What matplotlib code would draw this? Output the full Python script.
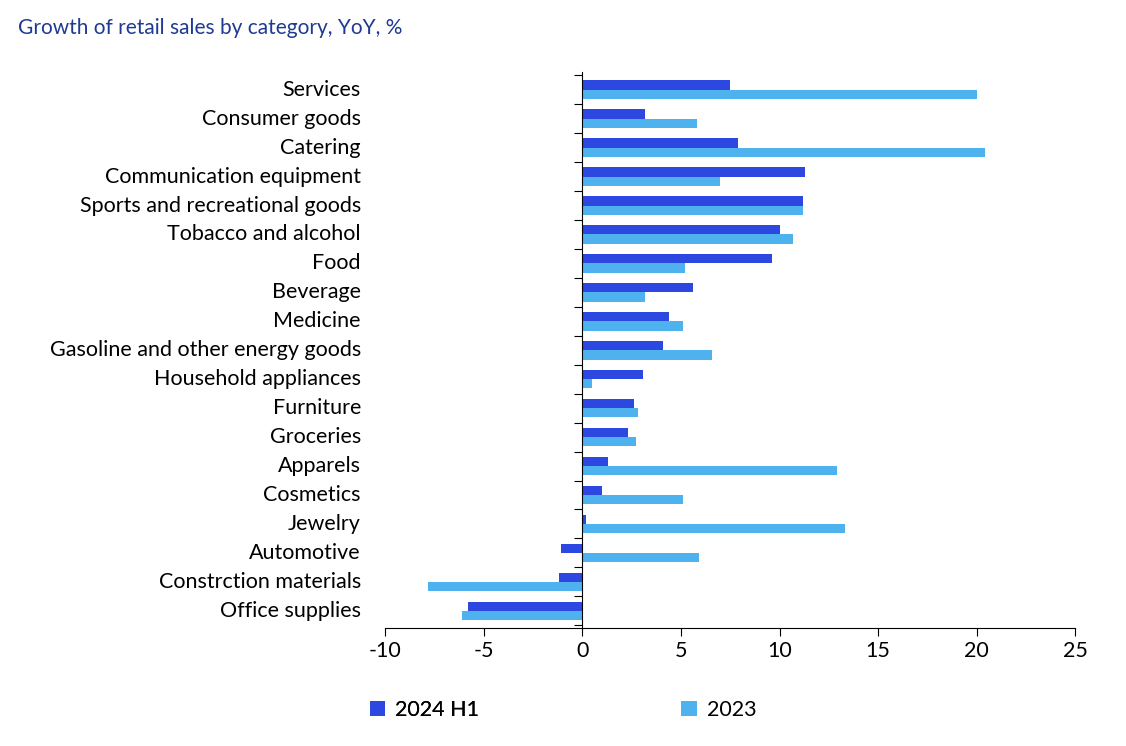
import matplotlib
matplotlib.use("Agg")
import matplotlib.pyplot as plt
import numpy as np
from matplotlib.transforms import blended_transform_factory

plt.rcParams['font.family'] = ['Lato', 'DejaVu Sans']
plt.rcParams['axes.unicode_minus'] = False

categories = ["Services", "Consumer goods", "Catering", "Communication equipment",
              "Sports and recreational goods", "Tobacco and alcohol", "Food", "Beverage",
              "Medicine", "Gasoline and other energy goods", "Household appliances",
              "Furniture", "Groceries", "Apparels", "Cosmetics", "Jewelry", "Automotive",
              "Constrction materials", "Office supplies"]
h1_2024 = [7.5, 3.2, 7.9, 11.3, 11.2, 10.0, 9.6, 5.6, 4.4, 4.1, 3.1, 2.6, 2.3, 1.3, 1.0, 0.2, -1.1, -1.2, -5.8]
y2023 = [20.0, 5.8, 20.4, 7.0, 11.2, 10.7, 5.2, 3.2, 5.1, 6.6, 0.5, 2.8, 2.7, 12.9, 5.1, 13.3, 5.9, -7.8, -6.1]

c1 = "#2C48E0"
c2 = "#4DB2EE"

fig = plt.figure(figsize=(11.26, 7.46), dpi=100)
ax = fig.add_axes([0.342, 0.158, 0.613, 0.745])
n = len(categories)
y = np.arange(n)[::-1].astype(float)
bh = 0.32
ax.barh(y + bh/2, h1_2024, height=bh, color=c1, label="2024 H1")
ax.barh(y - bh/2, y2023, height=bh, color=c2, label="2023")
ax.set_ylim(-0.6, n - 0.4)
ax.set_xlim(-10, 25)
ax.set_xticks(range(-10, 26, 5))
ax.tick_params(axis='x', labelsize=15.5, length=6, direction='out', color='black')
for s in ['top', 'right']:
    ax.spines[s].set_visible(False)
ax.spines['left'].set_position(('data', 0))
ax.spines['left'].set_color('black')
ax.spines['bottom'].set_color('black')
ax.set_yticks(np.arange(-0.5, n, 1.0))
ax.set_yticklabels([])
ax.tick_params(axis='y', length=6, direction='out', color='black')
tr = blended_transform_factory(ax.transAxes, ax.transData)
for yy, c in zip(y, categories):
    ax.text(-0.035, yy, c, transform=tr, ha='right', va='center', fontsize=15.5)

fig.text(0.016, 0.962, "Growth of retail sales by category, YoY, %", fontsize=15,
         color="#1F3A93", ha='left', va='center')

leg1 = fig.legend(handles=[ax.patches[0]], labels=["2024 H1"], loc='center left',
                  bbox_to_anchor=(0.311, 0.048), frameon=False, fontsize=15.5,
                  handlelength=0.7, handleheight=0.7, handletextpad=0.5)
fig.add_artist(leg1)
fig.legend(handles=[ax.patches[n]], labels=["2023"], loc='center left',
           bbox_to_anchor=(0.588, 0.048), frameon=False, fontsize=15.5,
           handlelength=0.7, handleheight=0.7, handletextpad=0.5)

fig.savefig("out.png", dpi=100)
